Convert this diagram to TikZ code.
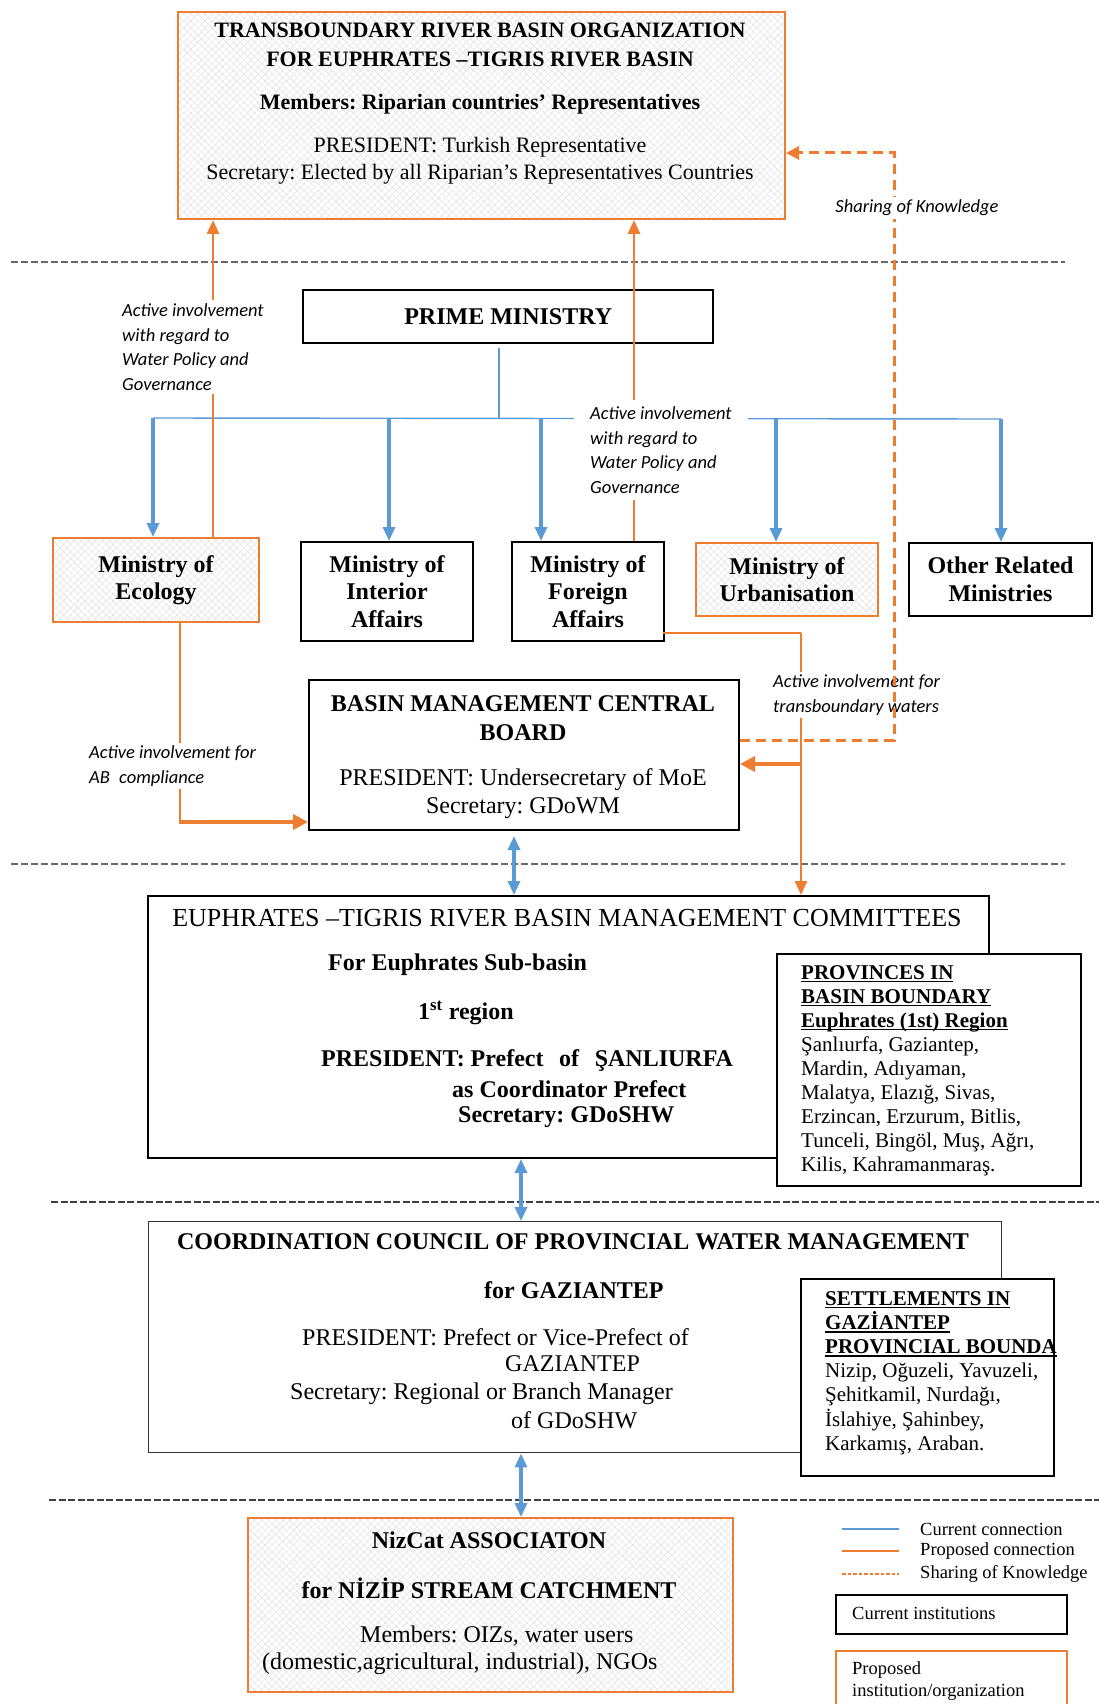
\documentclass[tikz,border=0pt]{standalone}
\usepackage{fontspec}
\setmainfont{Liberation Serif}
\newfontfamily\calib{Carlito}
\usetikzlibrary{arrows.meta,patterns.meta}
\definecolor{orng}{RGB}{237,125,49}
\definecolor{blu}{RGB}{91,155,213}
\definecolor{dgray}{RGB}{105,105,105}
\newcommand\fsz[2]{\fontsize{#1}{#2}\selectfont}
\newcommand\ulx[1]{\setbox0\hbox{#1}\rlap{\rule[-3.2pt]{\wd0}{1.6pt}}\box0}
\frenchspacing
\tikzset{
  cur/.style={draw=black, line width=2pt, inner sep=0pt, anchor=north west},
  prop/.style={draw=orng, line width=2pt, inner sep=0pt, anchor=north west,
    preaction={fill=white},
    preaction={pattern={Lines[angle=45,distance=5pt,line width=0.45pt]}, pattern color=black!12},
    preaction={pattern={Lines[angle=-45,distance=5pt,line width=0.45pt]}, pattern color=black!12}},
  sepline/.style={draw=dgray, line width=1.5pt, dash pattern=on 7pt off 3pt},
  sepdark/.style={draw=black!75, line width=1.9pt, dash pattern=on 7pt off 2.5pt},
  bluthin/.style={draw=blu, line width=1.4pt},
  bluarr/.style={draw=blu, line width=3.2pt, -{Triangle[width=12pt,length=14pt]}},
  bludbl/.style={draw=blu, line width=3.2pt, {Triangle[width=12pt,length=14pt]}-{Triangle[width=12pt,length=14pt]}},
  orthin/.style={draw=orng, line width=1.4pt},
  orln/.style={draw=orng, line width=2.9pt},
  orarr/.style={draw=orng, line width=2.9pt, -{Triangle[width=12pt,length=14pt]}},
  orarrthick/.style={draw=orng, line width=4pt, -{Triangle[width=15pt,length=15pt]}},
  sharing/.style={draw=orng, line width=3pt, dash pattern=on 10pt off 6pt, -{Triangle[width=13pt,length=13pt]}},
  lab/.style={font=\calib\itshape\fsz{18.5}{24.7}, align=left, fill=white, inner sep=3pt},
  mtext/.style={font=\bfseries\fsz{24}{27.5}, align=center},
  ser/.style={font=\fsz{24}{28}, inner sep=0pt},
  serb/.style={font=\bfseries\fsz{24}{28}, inner sep=0pt},
  lgd/.style={font=\fsz{18.5}{22}, inner sep=0pt, anchor=west}
}
\begin{document}
\begin{tikzpicture}[x=1pt,y=-1pt]
\fill[white] (0,0) rectangle (1099,1704);
\useasboundingbox (0,0) rectangle (1099,1704);

% separators
\draw[sepline] (11,262) -- (1065,262);
\draw[sepline] (11,864) -- (1065,864);
\draw[sepdark] (51,1202) -- (1099,1202);
\draw[sepdark] (49,1500) -- (1099,1500);

% top organisation
\node[prop, minimum width=607pt, minimum height=207pt] (trbo) at (177,11) {};
\node[font=\bfseries\fsz{22}{29}, align=center] (trboT) at (480,45) {TRANSBOUNDARY RIVER BASIN ORGANIZATION\\FOR EUPHRATES --TIGRIS RIVER BASIN};
\node[font=\bfseries\fsz{22}{26}] (trboM) at (480,104) {Members: Riparian countries’ Representatives};
\node[font=\fsz{22}{27}, align=center] (trboP) at (480,161) {PRESIDENT: Turkish Representative\\Secretary: Elected by all Riparian’s Representatives Countries};

% prime ministry
\node[cur, line width=2.4pt, minimum width=410pt, minimum height=53pt, font=\bfseries\fsz{24}{28}] (pm) at (302,289) {PRIME MINISTRY};

% ministries
\node[prop, minimum width=206pt, minimum height=84pt, mtext] (eco) at (52,537) {Ministry of\\Ecology};
\node[cur, minimum width=172pt, minimum height=99pt, mtext] (int) at (300,541) {Ministry of\\Interior\\Affairs};
\node[cur, minimum width=152pt, minimum height=99pt, mtext] (for) at (511,541) {Ministry of\\Foreign\\Affairs};
\node[prop, minimum width=182pt, minimum height=73pt, mtext] (urb) at (695,542) {Ministry of\\Urbanisation};
\node[cur, minimum width=183pt, minimum height=73pt, mtext] (oth) at (908,542) {Other Related\\Ministries};

% basin management central board
\node[cur, minimum width=430pt, minimum height=150pt] (bm) at (308,679) {};
\node[font=\bfseries\fsz{24}{29}, align=center] (bmT) at (523,718) {BASIN MANAGEMENT CENTRAL\\BOARD};
\node[font=\fsz{24}{28}, align=center] (bmP) at (523,794) {PRESIDENT: Undersecretary of MoE\\Secretary: GDoWM};

% committees
\node[cur, minimum width=841pt, minimum height=262pt] (cm) at (147,895) {};
\node[font=\fsz{26}{30}] (cmT) at (567,918) {EUPHRATES --TIGRIS RIVER BASIN MANAGEMENT COMMITTEES};
\node[serb, anchor=west] (cm1) at (328,965) {For Euphrates Sub-basin};
\node[serb, anchor=west] (cm2) at (418,1013) {1\textsuperscript{st} region};
\node[serb, anchor=west] (cm3) at (321,1061) {PRESIDENT: Prefect\hspace{0.4em} of\hspace{0.4em} ŞANLIURFA};
\node[serb, anchor=west] (cm4) at (452,1089) {as Coordinator Prefect};
\node[serb, anchor=west] (cm5) at (458,1117) {Secretary: GDoSHW};

\node[cur, fill=white, minimum width=304pt, minimum height=232pt] (prov) at (776,953) {};
\node[font=\fsz{21}{24}, align=left, inner sep=0pt, anchor=north west] (provT) at (801,965)
{\bfseries\ulx{PROVINCES IN}\\\bfseries\ulx{BASIN BOUNDARY}\\\bfseries\ulx{Euphrates (1st) Region}\\Şanlıurfa, Gaziantep,\\Mardin, Adıyaman,\\Malatya, Elazığ, Sivas,\\Erzincan, Erzurum, Bitlis,\\Tunceli, Bingöl, Muş, Ağrı,\\Kilis, Kahramanmaraş.};

% coordination council
\node[cur, draw=black!80, line width=1.4pt, minimum width=853pt, minimum height=231pt] (cc) at (148,1221) {};
\node[font=\bfseries\fsz{24}{28}] (ccT) at (573,1242) {COORDINATION COUNCIL OF PROVINCIAL WATER MANAGEMENT};
\node[serb, anchor=west] (cc1) at (484,1290) {for GAZIANTEP};
\node[ser, anchor=west] (cc2) at (302,1337) {PRESIDENT: Prefect or Vice-Prefect of};
\node[ser, anchor=west] (cc3) at (505,1364) {GAZIANTEP};
\node[ser, anchor=west] (cc4) at (290,1394) {Secretary: Regional or Branch Manager};
\node[ser, anchor=west] (cc5) at (511,1420) {of GDoSHW};

\node[cur, fill=white, minimum width=253pt, minimum height=197pt] (set) at (800,1278) {};
\node[font=\fsz{21}{24.2}, align=left, inner sep=0pt, anchor=north west] (setT) at (825,1291)
{\bfseries\ulx{SETTLEMENTS IN}\\\bfseries\ulx{GAZİANTEP}\\\bfseries\ulx{PROVINCIAL BOUNDA}\\Nizip, Oğuzeli, Yavuzeli,\\Şehitkamil, Nurdağı,\\İslahiye, Şahinbey,\\Karkamış, Araban.};

% NizCat
\node[prop, minimum width=485pt, minimum height=174pt] (nz) at (247,1517) {};
\node[serb] (nz1) at (489,1540) {NizCat ASSOCIATON};
\node[serb] (nz2) at (489,1588) {for NİZİP STREAM CATCHMENT};
\node[ser, anchor=west] (nz3) at (360,1636) {Members: OIZs, water users};
\node[ser, anchor=west] (nz4) at (262,1664) {(domestic,agricultural, industrial), NGOs};

% legend
\coordinate (lg1a) at (842,1529); \coordinate (lg1b) at (899,1529);
\coordinate (lg2a) at (842,1551); \coordinate (lg2b) at (899,1551);
\coordinate (lg3a) at (842,1574); \coordinate (lg3b) at (899,1574);
\draw[bluthin] (lg1a) -- (lg1b);
\draw[orthin] (lg2a) -- (lg2b);
\draw[draw=orng, line width=1.6pt, dash pattern=on 3.5pt off 2pt] (lg3a) -- (lg3b);
\node[lgd] (lt1) at (920,1529) {Current connection};
\node[lgd] (lt2) at (920,1551) {Proposed connection};
\node[lgd] (lt3) at (920,1574) {Sharing of Knowledge};
\node[cur, line width=1.8pt, minimum width=231pt, minimum height=39pt] (lgc) at (835,1594) {};
\node[lgd] (lgcT) at (852,1613) {Current institutions};
\node[draw=orng, line width=1.8pt, inner sep=0pt, anchor=north west, minimum width=231pt, minimum height=80pt] (lgp) at (835,1650) {};
\node[font=\fsz{18.5}{22}, align=left, inner sep=0pt, anchor=west] (lgpT) at (852,1681) {Proposed\\institution/organization};

% blue connections from prime ministry
\coordinate (pmdrop) at (499,348);
\coordinate (busL) at (153,418);
\coordinate (busR) at (1001,419);
\draw[bluthin] (pmdrop) -- (pmdrop |- busL);
\draw[bluthin] (busL) -- (busR);
\coordinate (b2) at (389,418);
\coordinate (b3) at (541,418);
\coordinate (b4) at (776,419);
\draw[bluarr] (busL) -- (busL |- eco.north);
\draw[bluarr] (b2) -- (b2 |- int.north);
\draw[bluarr] (b3) -- (b3 |- for.north);
\draw[bluarr] (b4) -- (b4 |- urb.north);
\draw[bluarr] (busR) -- (busR |- oth.north);

% blue two-way links
\coordinate (d1) at (514,0);
\coordinate (d2) at (521,0);
\draw[bludbl] (d1 |- bm.south) ++(0,5) -- (d1 |- cm.north);
\draw[bludbl] (d2 |- cm.south) -- (d2 |- cc.north);
\draw[bludbl] (d2 |- cc.south) -- (d2 |- nz.north);

% orange proposed links
\coordinate (ecoUp) at (213,537);
\draw[orarr] (ecoUp) -- (ecoUp |- trbo.south);
\coordinate (faUp) at (634,541);
\draw[orarr] (faUp) -- (faUp |- trbo.south);
\coordinate (faR) at (663,633);
\coordinate (tbx) at (801,633);
\draw[orthin] (faR) -- (tbx);
\draw[orarr] (tbx) -- (tbx |- cm.north);
\coordinate (tbj) at (801,764);
\draw[orarrthick] (tbj) -- (tbj -| bm.east);
\coordinate (ecoDn) at (180,621);
\coordinate (ecoC) at (180,822);
\draw[orln] (ecoDn) -- (ecoC);
\draw[orarrthick] (ecoC) ++(-1.4,0) -- (ecoC -| bm.west);

% labels
\node[lab, anchor=west] (lab1) at (119,347) {Active involvement\\with regard to\\Water Policy and\\Governance};
\node[lab, anchor=west, inner xsep=16pt, inner ysep=6pt] (lab2) at (574,450) {Active involvement\\with regard to\\Water Policy and\\Governance};
\node[lab, anchor=west] (lab3) at (770,695) {Active involvement for\\transboundary waters};
\node[lab, anchor=west] (lab4) at (86,766) {Active involvement for\\AB\hspace{0.5em}compliance};

% sharing of knowledge
\coordinate (shA) at (894,740);
\coordinate (shT) at (894,153);
\draw[sharing] (shA -| bm.east) -- (shA) -- (shT) -- (shT -| trbo.east);
\node[lab] (lab5) at (917,208) {Sharing of Knowledge};
\end{tikzpicture}
\end{document}
